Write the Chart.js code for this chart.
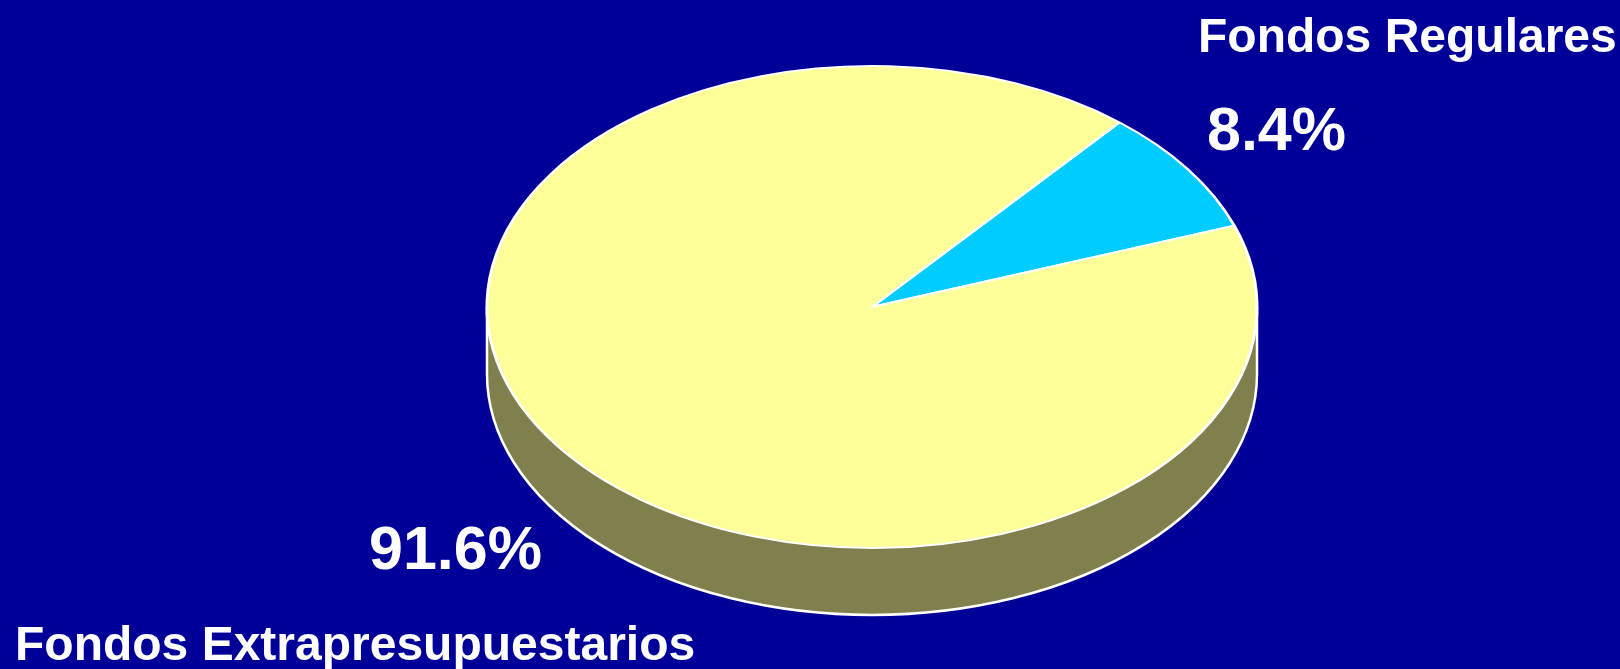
<!DOCTYPE html>
<html>
<head>
<meta charset="utf-8">
<title>Fondos</title>
<script src="https://cdn.jsdelivr.net/npm/chart.js@4"></script>
<style>
  html, body { margin: 0; padding: 0; background: #000099; overflow: hidden; }
  #wrap { position: relative; width: 1620px; height: 669px; }
</style>
</head>
<body>
<div id="wrap"><canvas id="myChart"></canvas></div>
<script>
// data
const categories = ["Fondos Regulares", "Fondos Extrapresupuestarios"];
const shares = [8.4, 91.6];

// look of the tilted pie
const tilt = 241 / 385;   // vertical squash of the top face
const depth = 67;         // side height in screen px

// fake 3D: squash the pie and draw an olive side under it
const pie3d = {
  id: "pie3d",
  beforeDatasetsDraw(chart) {
    const ctx = chart.ctx;
    const arc = chart.getDatasetMeta(0).data[0];
    const cx = arc.x, cy = arc.y, r = arc.outerRadius;
    const d = depth / tilt;

    ctx.save();
    ctx.translate(cx, cy);
    ctx.scale(1, tilt);
    ctx.translate(-cx, -cy);

    ctx.beginPath();
    ctx.moveTo(cx + r, cy);
    ctx.lineTo(cx + r, cy + d);
    ctx.arc(cx, cy + d, r, 0, Math.PI, false);
    ctx.lineTo(cx - r, cy);
    ctx.closePath();
    ctx.fillStyle = "#807f4e";
    ctx.fill();
    // stroke in screen space so the line is even
    ctx.save();
    ctx.setTransform(1, 0, 0, 1, 0, 0);
    ctx.strokeStyle = "#ffffff";
    ctx.lineWidth = 2.5;
    ctx.stroke();
    ctx.restore();
    // pie itself is drawn with the squash still on
  },
  afterDatasetsDraw(chart) {
    chart.ctx.restore();
  },
  afterDraw(chart) {
    const ctx = chart.ctx;
    ctx.save();
    ctx.fillStyle = "#ffffff";
    ctx.textBaseline = "alphabetic";
    ctx.textAlign = "left";

    ctx.font = "bold 48px 'Liberation Sans', Arial, sans-serif";
    ctx.fillText(categories[0], 1198, 52);
    ctx.fillText(categories[1], 15, 660);

    ctx.font = "bold 61px 'Liberation Sans', Arial, sans-serif";
    ctx.fillText(shares[0].toFixed(1) + "%", 1207, 150);
    ctx.fillText(shares[1].toFixed(1) + "%", 369, 569);
    ctx.restore();
  }
};

const ctx = document.getElementById("myChart").getContext("2d");

new Chart(ctx, {
  type: "pie",
  data: {
    labels: categories,
    datasets: [{
      data: shares,
      backgroundColor: ["#00ccff", "#ffff99"],
      borderColor: "#ffffff",
      borderWidth: 3,
      radius: 385,
      clip: false
    }]
  },
  options: {
    responsive: true,
    maintainAspectRatio: false,
    animation: false,
    rotation: 40,
    layout: {
      padding: { left: 124, right: 0, top: 0, bottom: 55 }
    },
    plugins: {
      legend: { display: false },
      tooltip: { enabled: false }
    },
    events: []
  },
  plugins: [pie3d]
});
</script>
</body>
</html>
